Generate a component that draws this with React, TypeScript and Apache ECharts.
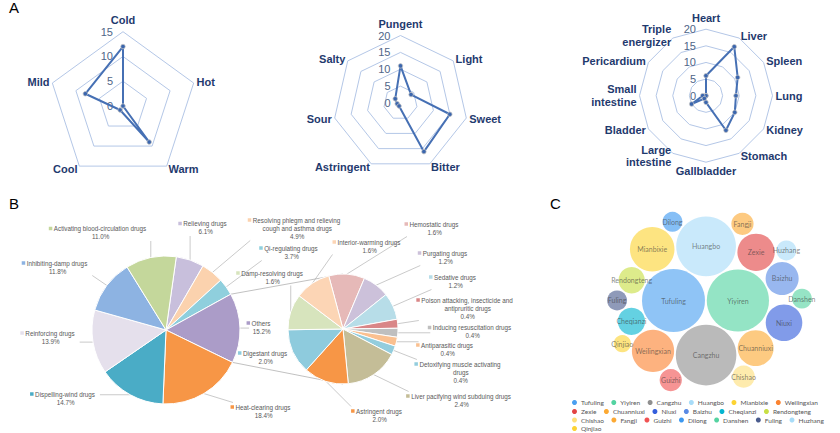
import React, { useEffect, useRef } from 'react';
import * as echarts from 'echarts';

// ---------------- Panel A: radar data ----------------
const natureNames = ['Cold', 'Hot', 'Warm', 'Cool', 'Mild'];
const natureValues = [12, 0, 9, 1, 8];
const natureMax = 15;

const flavorNames = ['Pungent', 'Light', 'Sweet', 'Bitter', 'Astringent', 'Sour', 'Salty'];
const flavorValues = [11, 4, 15, 16, 1, 1, 2];
const flavorMax = 20;

const meridianNames = ['Heart', 'Liver', 'Spleen', 'Lung', 'Kidney', 'Stomach', 'Gallbladder',
  'Large\nintestine', 'Bladder', 'Small\nintestine', 'Pericardium', 'Triple\nenergizer'];
const meridianValues = [6, 17, 11, 9, 10, 12, 2, 1, 5, 1, 0, 0];
const meridianMax = 20;

// ---------------- Panel B: pie of pie ----------------
const otherNames = ['Hemostatic drugs', 'Purgating drugs', 'Sedative drugs',
  'Poison attacking, insecticide and\nantipruritic drugs', 'Inducing resuscitation drugs',
  'Antiparasitic drugs', 'Detoxifying muscle activating\ndrugs', 'Liver pacifying wind subduing drugs',
  'Astringent drugs', 'Digestant drugs', 'Damp-resolving drugs', 'Interior-warming drugs'];
const otherValues = [1.6, 1.2, 1.2, 0.4, 0.4, 0.4, 0.4, 2.4, 2.0, 2.0, 1.6, 1.6];
const otherColors = ['#e6b9b8', '#ccc1da', '#b7dde8', '#d98687', '#bfbfbf', '#fac090', '#93cddd',
  '#c4bd97', '#f79646', '#8ecbdd', '#d7e4bd', '#fcd5b5'];

const othersTotal = Math.round(otherValues.reduce((s, v) => s + v, 0) * 10) / 10;
const mainNames = ['Relieving drugs', 'Resolving phlegm and relieving\ncough and asthma drugs',
  'Qi-regulating drugs', 'Others', 'Heat-clearing drugs', 'Dispelling-wind drugs',
  'Reinforcing drugs', 'Inhibiting-damp drugs', 'Activating blood-circulation drugs'];
const mainValues = [6.1, 4.9, 3.7, othersTotal, 18.4, 14.7, 13.9, 11.8, 11.0];
const mainColors = ['#c8bfdc', '#fbd2ae', '#8fcfdd', '#ab9cc8', '#f79646', '#4aacc6',
  '#e5e0ec', '#8db3e2', '#c4d79b'];
const othersIndex = 3;

// ---------------- Panel C: herb bubbles ----------------
const herbNames = ['Tufuling', 'Yiyiren', 'Cangzhu', 'Huangbo', 'Mianbixie', 'Weilingxian', 'Zexie',
  'Chuanniuxi', 'Niuxi', 'Baizhu', 'Cheqianzi', 'Rendongteng', 'Chishao', 'Fangji', 'Guizhi',
  'Dilong', 'Danshen', 'Fuling', 'Huzhang', 'Qinjiao'];
const herbValues = [40, 39, 37, 36, 20, 18, 14, 13, 13.5, 11, 7.5, 7, 5, 5, 5, 4, 4, 4, 4, 3];
const herbColors = ['#4a9ff0', '#53d3a1', '#8f8f8f', '#a8dcf8', '#fcd333', '#fb8330', '#e24444',
  '#fca933', '#345edc', '#598ae5', '#05b5d0', '#c8df44', '#fedf7a', '#fca933', '#f05353',
  '#3c98f0', '#55d3a1', '#4b5c8e', '#a8dcf8', '#fcd333'];

// ---------------- layout constants ----------------
const FONT = "'Liberation Sans', Arial, sans-serif";
const MAIN_CENTER = [166, 330];
const MAIN_R = 74;
const MAIN_START = 82;
const SUB_CENTER = [343, 329];
const SUB_R = 55;
const SUB_START = 105;
const mainLabelPos = [[205, 227.5], [296.5, 228], [291, 252], [261, 327], [263, 411], [65, 398],
  [50, 337], [57, 267], [100, 232.5]];
const subLabelPos = [[434, 228], [445, 257], [455, 281], [467, 308], [472, 331.5], [447, 349],
  [460, 372], [461, 400], [379, 415], [265, 357], [272, 277], [369, 246]];
const BUBBLE_K = 31.5 / Math.sqrt(40);
const BUBBLE_PAD = 0.9;
const BUBBLE_ANCHOR = [705.7, 300.5];
const legendRows = [6, 6, 7, 1];
const legendRowTop = [399, 408, 416.5, 425];

// ---------------- circle packing (front-chain) ----------------
type Circle = { x: number; y: number; r: number };
function place(b: Circle, a: Circle, c: Circle) {
  const dx = b.x - a.x, dy = b.y - a.y, d2 = dx * dx + dy * dy;
  if (d2) {
    let a2 = a.r + c.r; a2 *= a2;
    let b2 = b.r + c.r; b2 *= b2;
    if (a2 > b2) {
      const x = (d2 + b2 - a2) / (2 * d2);
      const y = Math.sqrt(Math.max(0, b2 / d2 - x * x));
      c.x = b.x - x * dx - y * dy;
      c.y = b.y - x * dy + y * dx;
    } else {
      const x = (d2 + a2 - b2) / (2 * d2);
      const y = Math.sqrt(Math.max(0, a2 / d2 - x * x));
      c.x = a.x + x * dx - y * dy;
      c.y = a.y + x * dy + y * dx;
    }
  } else {
    c.x = a.x + c.r; c.y = a.y;
  }
}
function intersects(a: Circle, b: Circle) {
  const dr = a.r + b.r - 1e-6, dx = b.x - a.x, dy = b.y - a.y;
  return dr > 0 && dr * dr > dx * dx + dy * dy;
}
function score(node: any) {
  const a = node._, b = node.next._, ab = a.r + b.r;
  const dx = (a.x * b.r + b.x * a.r) / ab, dy = (a.y * b.r + b.y * a.r) / ab;
  return dx * dx + dy * dy;
}
function mk(c: Circle): any { return { _: c, next: null, previous: null }; }
function packSiblings(circles: Circle[]) {
  const n = circles.length;
  let a: any, b: any, c: any;
  a = circles[0]; a.x = 0; a.y = 0;
  if (n < 2) return;
  b = circles[1]; a.x = -b.r; b.x = a.r; b.y = 0;
  if (n < 3) return;
  c = circles[2]; place(b, a, c);
  a = mk(a); b = mk(b); c = mk(c);
  a.next = c.previous = b;
  b.next = a.previous = c;
  c.next = b.previous = a;
  pack: for (let i = 3; i < n; ++i) {
    c = circles[i]; place(a._, b._, c); c = mk(c);
    let j = b.next, k = a.previous, sj = b._.r, sk = a._.r;
    do {
      if (sj <= sk) {
        if (intersects(j._, c._)) { b = j; a.next = b; b.previous = a; --i; continue pack; }
        sj += j._.r; j = j.next;
      } else {
        if (intersects(k._, c._)) { a = k; a.next = b; b.previous = a; --i; continue pack; }
        sk += k._.r; k = k.previous;
      }
    } while (j !== k.next);
    c.previous = a; c.next = b; a.next = b.previous = b = c;
    let aa = score(a);
    while ((c = c.next) !== b) { const ca = score(c); if (ca < aa) { a = c; aa = ca; } }
    b = a.next;
  }
}

// ---------------- builders ----------------
function radarOpt(names: string[], max: number, split: number, center: number[], radius: number) {
  const order = [0, ...names.map((_, i) => i).slice(1).reverse()];
  return {
    center, radius, startAngle: 90, shape: 'polygon', splitNumber: split,
    indicator: order.map((i, k) => {
      const ind: any = { name: names[i], min: 0, max };
      if (k === 0) {
        ind.axisLabel = { show: true, color: '#4f6587', fontSize: 11, fontFamily: FONT, margin: 10 };
      }
      return ind;
    }),
    axisName: { color: '#1f3a6e', fontSize: 11, fontWeight: 'bold', fontFamily: FONT, lineHeight: 12.5 },
    nameGap: 3,
    splitLine: { lineStyle: { color: '#b4c7e7', width: 1 } },
    splitArea: { show: false },
    axisLine: { show: false },
    axisTick: { show: false },
    axisLabel: { show: false },
  };
}
function radarSeries(values: number[], idx: number) {
  const order = [0, ...values.map((_, i) => i).slice(1).reverse()];
  return {
    type: 'radar', radarIndex: idx, symbol: 'circle', symbolSize: 4.5,
    lineStyle: { color: '#4670b4', width: 2 },
    itemStyle: { color: '#3b66ae', borderColor: '#c4c4c4', borderWidth: 0.8 },
    emphasis: { disabled: true },
    data: [{ value: order.map((i) => values[i]) }],
  };
}

function layoutLabel(params: any, pos: number[][]) {
  const [x, y] = pos[params.dataIndex];
  const w = params.labelRect.width, h = params.labelRect.height;
  const res: any = { x, y, align: 'center', verticalAlign: 'middle' };
  const pts = params.labelLinePoints;
  if (pts && pts.length) {
    const p0 = pts[0];
    const rx = x - w / 2, ry = y - h / 2;
    const px = Math.min(Math.max(p0[0], rx), rx + w);
    const py = Math.min(Math.max(p0[1], ry), ry + h);
    res.labelLinePoints = [p0, [px, py], [px, py]];
  }
  return res;
}

function pieSeries(names: string[], values: number[], colors: string[], center: number[],
  radius: number, startAngle: number, pos: number[][]) {
  const rich: any = {
    t: { fontSize: 6.3, color: '#595959', fontFamily: FONT, lineHeight: 8, padding: [0, 0, 0, 1.5] },
    s: { width: 5, height: 3 },
  };
  colors.forEach((c, i) => { rich['m' + i] = { width: 3.5, height: 3.5, backgroundColor: c }; });
  return {
    type: 'pie', center, radius, startAngle, clockwise: true, avoidLabelOverlap: false,
    data: names.map((n, i) => ({ name: n, value: values[i], itemStyle: { color: colors[i] } })),
    itemStyle: { borderColor: '#ffffff', borderWidth: 1 },
    label: {
      show: true, position: 'outside', overflow: 'none', rich,
      formatter: (p: any) => {
        const lines = String(p.name).split('\n');
        let s = `{m${p.dataIndex}|}{t|${lines[0]}}{s|}`;
        for (let k = 1; k < lines.length; k++) s += `\n{t|${lines[k]}}`;
        s += `\n{t|${Number(p.value).toFixed(1)}%}`;
        return s;
      },
    },
    labelLine: { show: true, length: 4, length2: 4, lineStyle: { color: '#a6a6a6', width: 0.6 } },
    labelLayout: (params: any) => layoutLabel(params, pos),
    emphasis: { disabled: true },
  };
}

function buildOption() {
  // bubbles
  const circles: Circle[] = herbValues.map((v) => ({ x: 0, y: 0, r: BUBBLE_K * Math.sqrt(v) + BUBBLE_PAD }));
  packSiblings(circles);
  const midX = (circles[0].x + circles[1].x) / 2, midY = (circles[0].y + circles[1].y) / 2;
  const bubbleSeries = herbNames.map((name, i) => ({
    type: 'scatter', name, xAxisIndex: 0, yAxisIndex: 0,
    symbol: 'circle', symbolSize: 2 * (circles[i].r - BUBBLE_PAD),
    itemStyle: { color: herbColors[i], opacity: 0.62 },
    label: { show: true, position: 'inside', formatter: name, fontSize: 7, color: '#383838', fontFamily: 'Lato' },
    emphasis: { disabled: true },
    data: [[circles[i].x - midX + BUBBLE_ANCHOR[0], circles[i].y - midY + BUBBLE_ANCHOR[1], herbValues[i]]],
  }));
  const legends: any[] = [];
  let start = 0;
  legendRows.forEach((cnt, r) => {
    legends.push({
      left: 572, top: legendRowTop[r], padding: 0, itemWidth: 5, itemHeight: 5, itemGap: 7.5,
      icon: 'circle', selectedMode: false, itemStyle: { opacity: 1 },
      textStyle: { fontSize: 6.5, color: '#555555', fontFamily: 'Lato', padding: [0, 0, 0, -1] },
      data: herbNames.slice(start, start + cnt),
    });
    start += cnt;
  });

  // connector lines between pies
  const mainTotal = mainValues.reduce((s, v) => s + v, 0);
  let acc = 0;
  for (let i = 0; i < othersIndex; i++) acc += mainValues[i];
  const th0 = ((90 - MAIN_START) + (acc / mainTotal) * 360) * Math.PI / 180;
  const th1 = th0 + (mainValues[othersIndex] / mainTotal) * 2 * Math.PI;
  const pA = [MAIN_CENTER[0] + MAIN_R * Math.sin(th0), MAIN_CENTER[1] - MAIN_R * Math.cos(th0)];
  const pB = [MAIN_CENTER[0] + MAIN_R * Math.sin(th1), MAIN_CENTER[1] - MAIN_R * Math.cos(th1)];
  const qA = [SUB_CENTER[0], SUB_CENTER[1] - SUB_R];
  const qB = [SUB_CENTER[0], SUB_CENTER[1] + SUB_R];

  const letter = (t: string, x: number, y: number) => ({
    type: 'text', x, y, style: { text: t, font: `15px ${FONT}`, fill: '#000', textVerticalAlign: 'top' },
  });

  return {
    animation: false,
    backgroundColor: '#ffffff',
    radar: [
      radarOpt(natureNames, natureMax, 3, [123, 106], 74.3),
      radarOpt(flavorNames, flavorMax, 4, [400.5, 103], 67.5),
      radarOpt(meridianNames, meridianMax, 4, [706, 95.7], 66.5),
    ],
    grid: { left: 0, top: 0, width: 840, height: 433, show: false },
    xAxis: { type: 'value', min: 0, max: 840, show: false },
    yAxis: { type: 'value', min: 0, max: 433, inverse: true, show: false },
    legend: legends,
    graphic: [
      letter('A', 9, 0),
      letter('B', 9, 196),
      letter('C', 550, 196),
      { type: 'line', shape: { x1: pA[0], y1: pA[1], x2: qA[0], y2: qA[1] }, style: { stroke: '#a6a6a6', lineWidth: 0.7 } },
      { type: 'line', shape: { x1: pB[0], y1: pB[1], x2: qB[0], y2: qB[1] }, style: { stroke: '#a6a6a6', lineWidth: 0.7 } },
    ],
    series: [
      radarSeries(natureValues, 0),
      radarSeries(flavorValues, 1),
      radarSeries(meridianValues, 2),
      pieSeries(mainNames, mainValues, mainColors, MAIN_CENTER, MAIN_R, MAIN_START, mainLabelPos),
      pieSeries(otherNames, otherValues, otherColors, SUB_CENTER, SUB_R, SUB_START, subLabelPos),
      ...bubbleSeries,
    ],
  };
}

export default function App() {
  const ref = useRef<HTMLDivElement>(null);
  useEffect(() => {
    const chart = echarts.init(ref.current as HTMLDivElement, null, { renderer: 'svg' });
    chart.setOption(buildOption() as any);
    return () => chart.dispose();
  }, []);
  return <div ref={ref} style={{ position: 'absolute', left: 0, top: 0, width: 840, height: 433 }} />;
}
